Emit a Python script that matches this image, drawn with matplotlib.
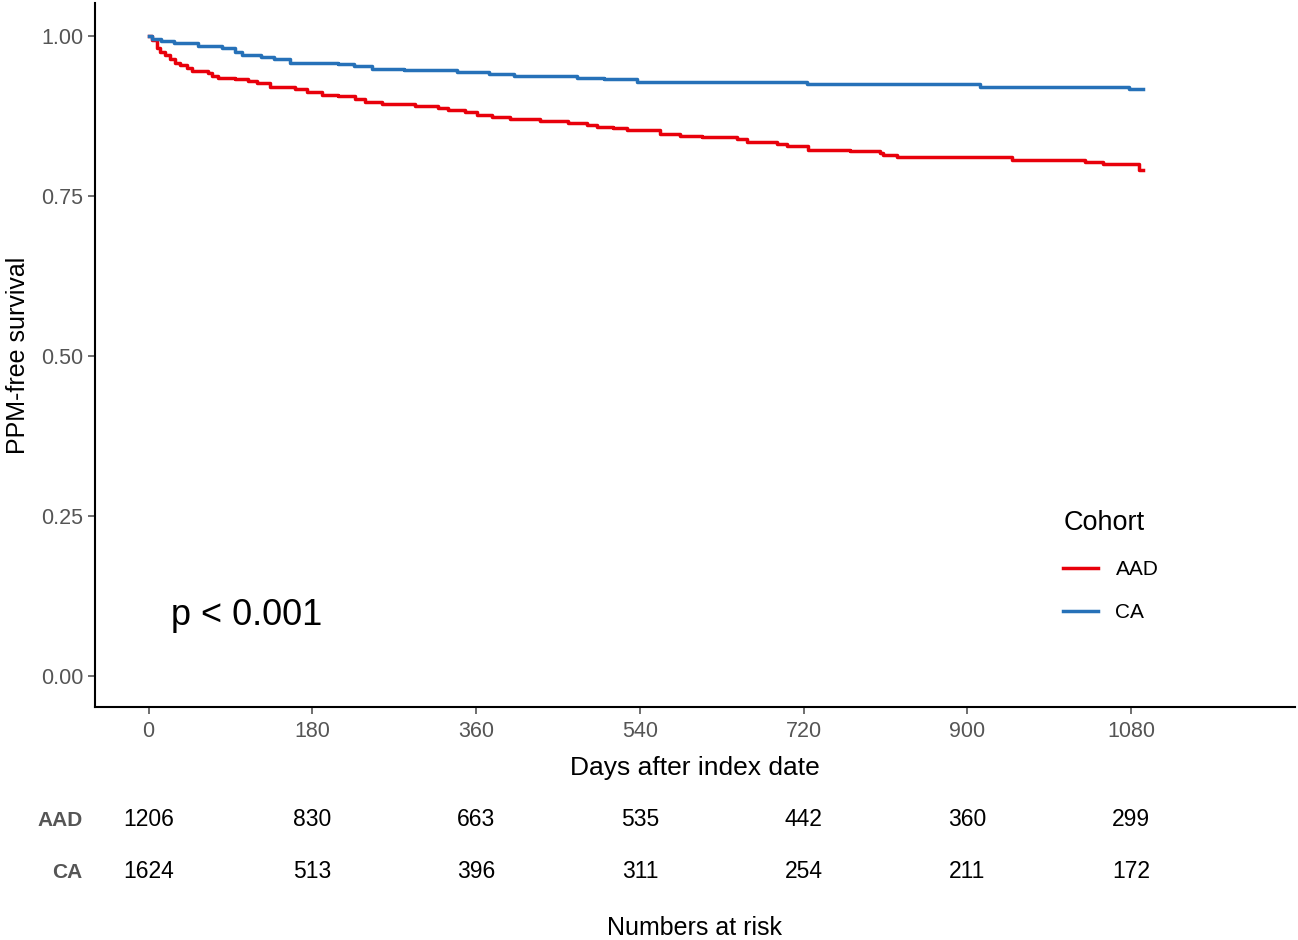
import numpy as np
import matplotlib.pyplot as plt

plt.rcParams['font.family'] = ['Liberation Sans', 'DejaVu Sans']

# Kaplan-Meier steps (day, survival after step)
aad_days = [0, 4, 9, 12, 18, 23, 29, 34, 42, 48, 65, 70, 76, 95, 109, 119, 133, 161, 174,
            191, 208, 227, 238, 257, 293, 318, 329, 348, 361, 377, 397, 430, 461, 482, 493,
            510, 526, 562, 584, 608, 647, 658, 691, 702, 725, 771, 804, 807, 823, 949, 1029,
            1049, 1088, 1093]
aad_surv = [1.0, 0.994, 0.981, 0.975, 0.970, 0.964, 0.958, 0.955, 0.950, 0.945, 0.942, 0.938,
            0.935, 0.933, 0.930, 0.927, 0.921, 0.918, 0.913, 0.909, 0.906, 0.9026, 0.897, 0.894,
            0.891, 0.888, 0.8855, 0.882, 0.877, 0.874, 0.871, 0.868, 0.865, 0.862, 0.859, 0.856,
            0.853, 0.847, 0.844, 0.842, 0.839, 0.835, 0.832, 0.829, 0.823, 0.820, 0.818, 0.815,
            0.8115, 0.806, 0.803, 0.801, 0.791, 0.791]

ca_days = [0, 4, 14, 28, 54, 81, 95, 103, 124, 138, 155, 208, 226, 246, 281, 339, 374, 402,
           471, 501, 537, 724, 914, 1077, 1093]
ca_surv = [1.0, 0.995, 0.993, 0.990, 0.985, 0.981, 0.976, 0.971, 0.968, 0.964, 0.959, 0.956,
           0.953, 0.9495, 0.947, 0.944, 0.9417, 0.938, 0.9354, 0.933, 0.929, 0.926, 0.920,
           0.9177, 0.9177]

time_ticks = [0, 180, 360, 540, 720, 900, 1080]
aad_risk = [1206, 830, 663, 535, 442, 360, 299]
ca_risk = [1624, 513, 396, 311, 254, 211, 172]

red = '#E8000B'
blue = '#2671B8'
grey = '#555555'

fig = plt.figure(figsize=(12.98, 9.40), dpi=100)
ax = fig.add_axes([95/1298, 1-707/940, 1200/1298, 704/940])

ax.step(aad_days, aad_surv, where='post', color=red, lw=2.5, label='AAD')
ax.step(ca_days, ca_surv, where='post', color=blue, lw=2.5, label='CA')

ax.set_xlim(-59, 1260)
ax.set_ylim(-0.048, 1.052)
ax.set_xticks(time_ticks)
ax.set_yticks([0, 0.25, 0.5, 0.75, 1.0])
ax.set_yticklabels(['0.00', '0.25', '0.50', '0.75', '1.00'])
ax.tick_params(labelsize=15.5, colors=grey, length=5, width=1.2)
ax.tick_params(axis='x', pad=5)
for s in ['top', 'right']:
    ax.spines[s].set_visible(False)
for s in ['left', 'bottom']:
    ax.spines[s].set_linewidth(1.5)
ax.set_xlabel('Days after index date', fontsize=19, labelpad=10)
ax.set_ylabel('PPM-free survival', fontsize=18, labelpad=8)

ax.text(25, 0.095, 'p < 0.001', fontsize=26, va='center', ha='left')

leg = ax.legend(title='Cohort', loc='upper left', bbox_to_anchor=(1053/1298, 1-500/940),
                bbox_transform=fig.transFigure, frameon=False, fontsize=15,
                title_fontsize=19.5, handlelength=1.65, handletextpad=0.85,
                labelspacing=1.15, borderpad=0, alignment='left')

# numbers at risk table
tab = fig.add_axes([95/1298, 1-900/940, 1200/1298, 110/940])
tab.set_xlim(ax.get_xlim())
tab.set_ylim(900, 790)
tab.axis('off')
for t, a, c in zip(time_ticks, aad_risk, ca_risk):
    tab.text(t, 820, str(a), ha='center', va='center', fontsize=16.5)
    tab.text(t, 872, str(c), ha='center', va='center', fontsize=16.5)
tab.text(-73, 820, 'AAD', ha='right', va='center', fontsize=15, fontweight='bold', color=grey)
tab.text(-73, 872, 'CA', ha='right', va='center', fontsize=15, fontweight='bold', color=grey)
fig.text(695/1298, 1-928/940, 'Numbers at risk', ha='center', va='center', fontsize=18)

fig.savefig('out.png', dpi=100)
